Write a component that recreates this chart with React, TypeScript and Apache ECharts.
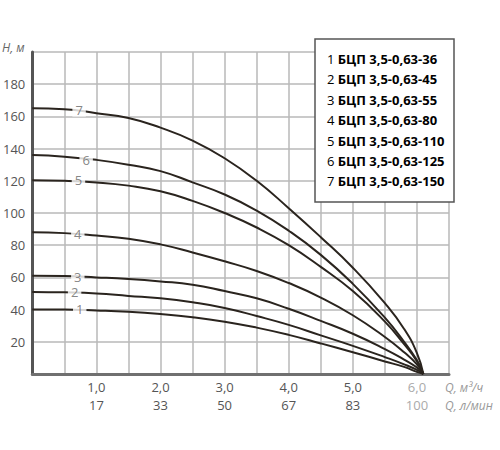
import { useEffect, useRef } from 'react';
import * as echarts from 'echarts';

// flow, m3/h
const qValues = [0, 0.5, 1, 1.5, 2, 2.5, 3, 3.5, 4, 4.5, 5, 5.5, 5.8, 6, 6.1];

// head, m (curves 1..7)
const head1 = [40, 40, 39.5, 38.7, 37.3, 35.3, 32.5, 28.8, 24.3, 19, 13.5, 7.8, 4.4, 1.3, 0];
const head2 = [51, 50.7, 50, 48.5, 47, 44.5, 41, 36, 30.5, 24, 17.5, 10.5, 6, 2.5, 0];
const head3 = [61, 60.8, 60, 59, 57.5, 55.5, 51.5, 47, 40.5, 33, 25, 15.5, 9, 4, 0];
const head4 = [88, 87.5, 86, 84, 80.5, 75.5, 70, 64, 56.5, 47.5, 36.5, 23, 13.5, 6, 0];
const head5 = [120.3, 120, 119, 117, 113.5, 107.5, 100, 91, 80, 66.5, 51.5, 32.5, 18.5, 8, 0];
const head6 = [136, 135, 133, 130, 126, 119, 111.5, 101.5, 89, 74, 56, 35, 20, 8.5, 0];
const head7 = [165, 164.5, 162, 159, 153, 145, 134, 120, 103, 85, 66, 44, 28, 13, 0];
const heads = [head1, head2, head3, head4, head5, head6, head7];

// where the curve numbers sit
const labelQ = [0.74, 0.66, 0.71, 0.71, 0.72, 0.84, 0.73];
const labelH = [40.2, 51, 60.3, 86.7, 120.5, 133.1, 163.9];

const models = [
  'БЦП 3,5-0,63-36',
  'БЦП 3,5-0,63-45',
  'БЦП 3,5-0,63-55',
  'БЦП 3,5-0,63-80',
  'БЦП 3,5-0,63-110',
  'БЦП 3,5-0,63-125',
  'БЦП 3,5-0,63-150',
];

const yTicks = [20, 40, 60, 80, 100, 120, 140, 160, 180];
const qTickLabels = ['1,0', '2,0', '3,0', '4,0', '5,0', '6,0'];
const lpmTickLabels = ['17', '33', '50', '67', '83', '100'];

const FONT = '"Open Sans", sans-serif';

export default function App() {
  const chartRef = useRef<HTMLDivElement>(null);

  useEffect(() => {
    if (!chartRef.current) return;
    const chart = echarts.init(chartRef.current, null, { renderer: 'svg' });

    const series: any[] = heads.map((h, i) => ({
      name: String(i + 1),
      type: 'line',
      data: qValues.map((q, j) => [q, h[j]]),
      smooth: 0.5,
      symbol: 'none',
      lineStyle: { color: '#2a241e', width: 2 },
      z: 3,
    }));

    series.push({
      type: 'scatter',
      symbolSize: 0,
      z: 5,
      data: labelQ.map((q, i) => ({ value: [q, labelH[i]], name: String(i + 1) })),
      label: {
        show: true,
        position: 'inside',
        formatter: '{b}',
        color: '#666',
        fontSize: 13,
        fontFamily: FONT,
        backgroundColor: '#fff',
        padding: [0, 3],
      },
    });

    const legendTexts = models.map((m, i) => ({
      type: 'text',
      z: 101,
      x: 327,
      y: 59 + i * 20.4,
      style: {
        text: `{n|${i + 1}} {b|${m}}`,
        verticalAlign: 'middle',
        rich: {
          n: { fontSize: 13, color: '#777', fontFamily: FONT },
          b: { fontSize: 13, color: '#333', fontWeight: 'bold', fontFamily: FONT },
        },
      },
    }));

    chart.setOption({
      animation: false,
      grid: { left: 30, right: 51, top: 52, bottom: 76 },
      xAxis: {
        type: 'value',
        min: 0,
        max: 6.5,
        interval: 0.5,
        axisLine: { lineStyle: { color: '#707070', width: 3 } },
        axisTick: { show: false },
        splitLine: { show: true, lineStyle: { color: '#b8b8b8', width: 1.5 } },
        axisLabel: {
          margin: 4,
          fontFamily: FONT,
          lineHeight: 18,
          formatter: (v: number) => {
            const idx = Math.round(v) - 1;
            if (Math.abs(v - Math.round(v)) > 1e-6 || idx < 0 || idx >= qTickLabels.length) return '';
            const faded = idx === qTickLabels.length - 1;
            return faded
              ? `{f|${qTickLabels[idx]}}\n{f|${lpmTickLabels[idx]}}`
              : `{a|${qTickLabels[idx]}}\n{a|${lpmTickLabels[idx]}}`;
          },
          rich: {
            a: { fontSize: 13, color: '#555', fontFamily: FONT, lineHeight: 18 },
            f: { fontSize: 13, color: '#aaa', fontFamily: FONT, lineHeight: 18 },
          },
        },
      },
      yAxis: {
        type: 'value',
        min: 0,
        max: 200,
        interval: 20,
        axisLine: { show: true, lineStyle: { color: '#555', width: 3 } },
        axisTick: { show: false },
        splitLine: { show: true, lineStyle: { color: '#b8b8b8', width: 1.5 } },
        axisLabel: {
          margin: 7,
          fontSize: 13,
          color: '#555',
          fontFamily: FONT,
          padding: [0, 0, 8, 0],
          formatter: (v: number) => (yTicks.includes(v) ? String(v) : ''),
        },
      },
      graphic: [
        {
          type: 'text',
          x: 2,
          y: 47,
          style: {
            text: 'H, м',
            fontSize: 12,
            fontStyle: 'italic',
            fill: '#666',
            fontFamily: FONT,
            verticalAlign: 'middle',
          },
        },
        {
          type: 'text',
          x: 445,
          y: 387,
          style: {
            text: 'Q, м³/ч',
            fontSize: 12,
            fontStyle: 'italic',
            fill: '#999',
            fontFamily: FONT,
            verticalAlign: 'middle',
          },
        },
        {
          type: 'text',
          x: 445,
          y: 405,
          style: {
            text: 'Q, л/мин',
            fontSize: 12,
            fontStyle: 'italic',
            fill: '#999',
            fontFamily: FONT,
            verticalAlign: 'middle',
          },
        },
        {
          type: 'rect',
          z: 100,
          shape: { x: 315, y: 39, width: 139, height: 163 },
          style: { fill: '#fff', stroke: '#555', lineWidth: 1.5 },
        },
        ...legendTexts,
      ],
      series,
    });

    return () => chart.dispose();
  }, []);

  return (
    <div
      ref={chartRef}
      style={{ position: 'fixed', left: 0, top: 0, width: 500, height: 450, background: '#fff' }}
    />
  );
}
